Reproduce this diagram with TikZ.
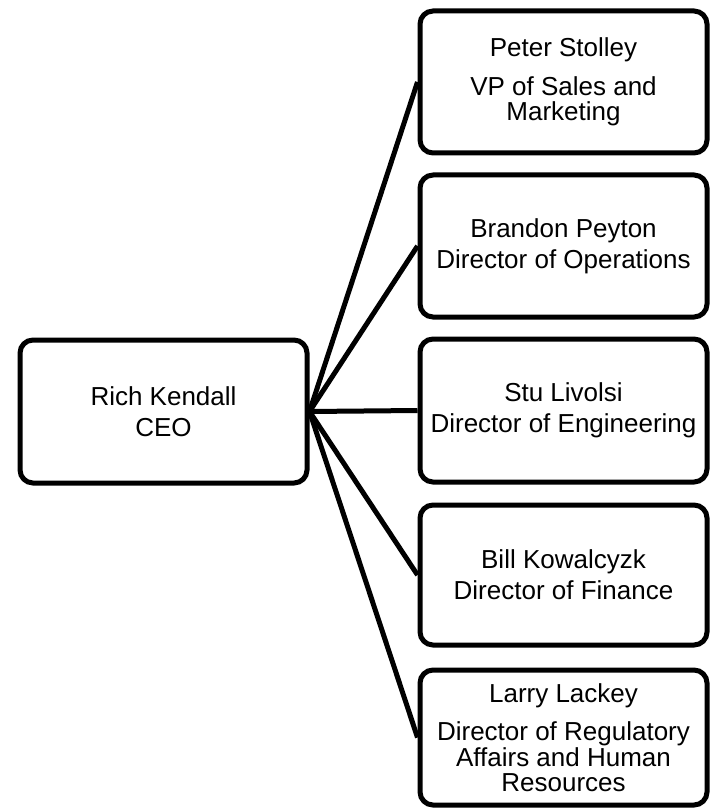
\documentclass[tikz,border=0pt]{standalone}
\usepackage{fontspec}
\setmainfont{Liberation Sans}
\begin{document}
\begin{tikzpicture}[x=1pt,y=-1pt,
  box/.style={draw, line width=5pt, rounded corners=13pt, minimum width=287pt,
    align=center, inner sep=0pt, font=\fontsize{26}{31}\selectfont},
  tight/.style={font=\fontsize{26}{25.5}\selectfont},
  link/.style={line width=5pt}]
\useasboundingbox (0,0) rectangle (715,810);
\node[box, minimum height=143pt] (ceo) at (163.5,411.5) {Rich Kendall\\CEO};
\node[box, tight, minimum height=142pt] (p1) at (563.5,82) {Peter Stolley\\[13pt]VP of Sales and\\Marketing};
\node[box, minimum height=142pt] (p2) at (563.5,246) {Brandon Peyton\\Director of Operations};
\node[box, minimum height=143pt] (p3) at (563.5,410.5) {Stu Livolsi\\Director of Engineering};
\node[box, minimum height=140pt] (p4) at (563.5,575) {Bill Kowalcyzk\\Director of Finance};
\node[box, tight, minimum height=135pt] (p5) at (563.5,737.5) {Larry Lackey\\[13pt]Director of Regulatory\\Affairs and Human\\Resources};
\foreach \n in {p1,p2,p3,p4,p5}
  \draw[link] (ceo.east) -- (\n.west);
\end{tikzpicture}
\end{document}
